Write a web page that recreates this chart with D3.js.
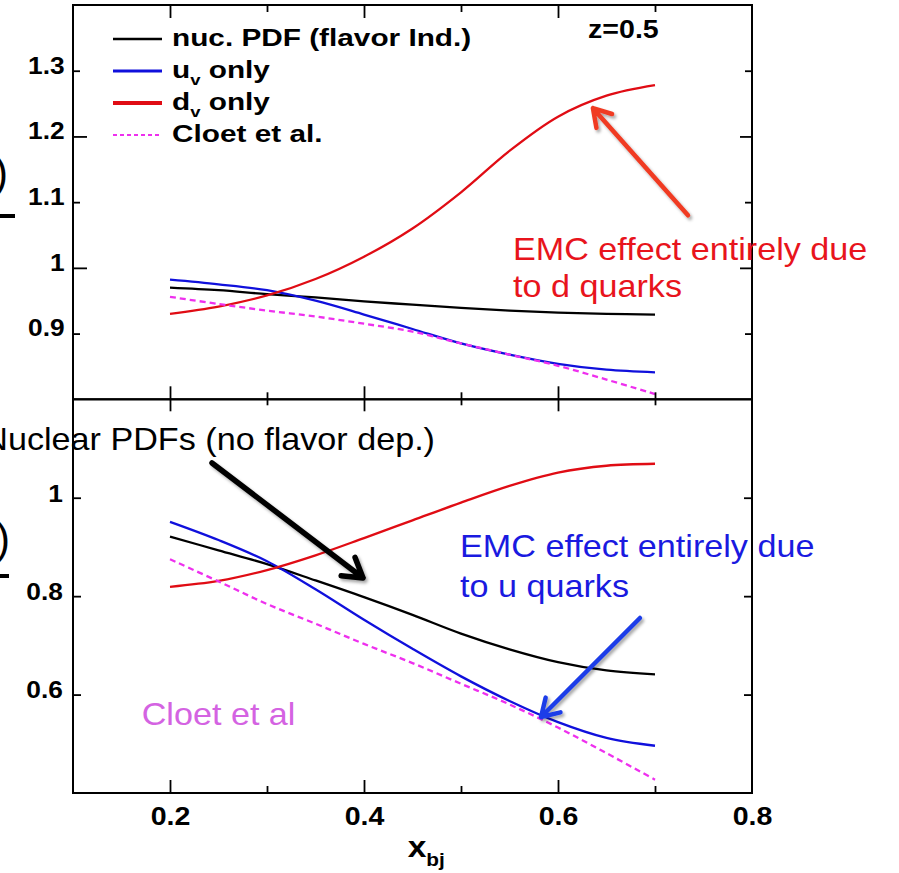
<!DOCTYPE html>
<html>
<head>
<meta charset="utf-8">
<script src="https://cdn.jsdelivr.net/npm/d3@7"></script>
<style>
  html, body { margin: 0; padding: 0; background: #fff; overflow: hidden; }
  svg { display: block; }
  text { font-family: "Liberation Sans", Arial, Helvetica, sans-serif; }
</style>
</head>
<body>
<svg id="chart" width="899" height="873"></svg>
<script>
// ---- data -------------------------------------------------------------
const xValues = [0.2, 0.25, 0.3, 0.35, 0.4, 0.45, 0.5, 0.55, 0.6, 0.65, 0.7];

// upper panel (z = 0.5)
const topNuc   = [0.970, 0.966, 0.960, 0.955, 0.949, 0.944, 0.939, 0.935, 0.932, 0.930, 0.929];
const topUv    = [0.982, 0.975, 0.966, 0.950, 0.929, 0.907, 0.885, 0.868, 0.854, 0.845, 0.841];
const topDv    = [0.930, 0.941, 0.958, 0.983, 1.017, 1.060, 1.115, 1.178, 1.230, 1.262, 1.278];
const topCloet = [0.956, 0.945, 0.935, 0.926, 0.915, 0.903, 0.885, 0.868, 0.851, 0.830, 0.808];

// lower panel
const botNuc   = [0.921, 0.893, 0.865, 0.832, 0.798, 0.762, 0.724, 0.692, 0.666, 0.649, 0.641];
const botUv    = [0.951, 0.914, 0.871, 0.814, 0.752, 0.693, 0.637, 0.587, 0.544, 0.512, 0.496];
const botDv    = [0.819, 0.831, 0.853, 0.883, 0.918, 0.954, 0.990, 1.024, 1.051, 1.065, 1.069];
const botCloet = [0.875, 0.830, 0.784, 0.744, 0.703, 0.664, 0.622, 0.580, 0.533, 0.481, 0.427];

// axes
const xDomain = [0.1, 0.8];
const topDomain = [0.8, 1.4];
const botDomain = [0.4, 1.2];
const xMajorTicks = [0.2, 0.4, 0.6];
const xMinorTicks = [0.3, 0.5, 0.7];
const xTickLabels = [0.2, 0.4, 0.6, 0.8];
const topMajorTicks = [1.0, 1.2];
const topMinorTicks = [0.9, 1.1, 1.3];
const topTickLabels = [0.9, 1.0, 1.1, 1.2, 1.3];
const botTicks = [0.6, 0.8, 1.0];

// legend
const legendNames = ["nuc. PDF (flavor Ind.)", "u|v| only", "d|v| only", "Cloet et al."];
const seriesColors = ["#000000", "#1010dc", "#e00c14", "#ee30ee"];

// ---- layout -----------------------------------------------------------
const L = 73, R = 752, T = 5, M = 399.3, B = 793;
const SX = 1.12;   // horizontal stretch of the lettering
const svg = d3.select("#chart");

const x = d3.scaleLinear().domain(xDomain).range([L, R]);
const yTop = d3.scaleLinear().domain(topDomain).range([M, T]);
const yBot = d3.scaleLinear().domain(botDomain).range([B, M]);

const defs = svg.append("defs");
const shadow = defs.append("filter").attr("id", "shadow")
  .attr("x", "-20%").attr("y", "-20%").attr("width", "140%").attr("height", "140%");
shadow.append("feDropShadow").attr("dx", 2).attr("dy", 2.5)
  .attr("stdDeviation", 1.6).attr("flood-color", "#000").attr("flood-opacity", 0.35);

// ---- curves -----------------------------------------------------------
function drawSeries(yScale, series) {
  const g = svg.append("g");
  series.forEach((vals, i) => {
    const line = d3.line()
      .x((d, j) => x(xValues[j]))
      .y(d => yScale(d))
      .curve(d3.curveCatmullRom.alpha(0.5));
    g.append("path")
      .attr("d", line(vals))
      .attr("fill", "none")
      .attr("stroke", seriesColors[i])
      .attr("stroke-width", 2.3)
      .attr("stroke-dasharray", i === 3 ? "6,4" : null);
  });
}
drawSeries(yTop, [topNuc, topUv, topDv, topCloet]);
drawSeries(yBot, [botNuc, botUv, botDv, botCloet]);

// ---- frames and ticks -------------------------------------------------
function tickAxis(axis, tx, ty, values, size) {
  const g = svg.append("g").attr("transform", `translate(${tx},${ty})`)
    .call(axis.tickValues(values).tickSize(size).tickSizeOuter(0).tickFormat(""));
  g.select(".domain").remove();
  g.selectAll("line").attr("stroke", "#000").attr("stroke-width", 1.8);
}
// x ticks: top edge, shared middle edge (both directions), bottom edge
tickAxis(d3.axisTop(x), 0, T, xMajorTicks, -13);
tickAxis(d3.axisTop(x), 0, T, xMinorTicks, -7);
tickAxis(d3.axisTop(x), 0, M, xMajorTicks, 13);
tickAxis(d3.axisTop(x), 0, M, xMinorTicks, 7);
tickAxis(d3.axisBottom(x), 0, M, xMajorTicks, 12);
tickAxis(d3.axisBottom(x), 0, M, xMinorTicks, 6);
tickAxis(d3.axisBottom(x), 0, B, xMajorTicks, -13);
tickAxis(d3.axisBottom(x), 0, B, xMinorTicks, -7);
// y ticks
tickAxis(d3.axisLeft(yTop), L, 0, topMajorTicks, -14);
tickAxis(d3.axisLeft(yTop), L, 0, topMinorTicks, -7);
tickAxis(d3.axisRight(yTop), R, 0, topMajorTicks, -12);
tickAxis(d3.axisRight(yTop), R, 0, topMinorTicks, -7);
tickAxis(d3.axisLeft(yBot), L, 0, botTicks, -8);
tickAxis(d3.axisRight(yBot), R, 0, botTicks, -8);

svg.append("rect").attr("x", L).attr("y", T).attr("width", R - L).attr("height", M - T)
  .attr("fill", "none").attr("stroke", "#000").attr("stroke-width", 2);
svg.append("rect").attr("x", L).attr("y", M).attr("width", R - L).attr("height", B - M)
  .attr("fill", "none").attr("stroke", "#000").attr("stroke-width", 2);

// ---- tick labels ------------------------------------------------------
const fmtY = d => (d === 1 ? "1" : d3.format(".1f")(d));
function labelAxis(axis, tx, ty, values, fmt, pad, size, dy) {
  const g = svg.append("g").attr("transform", `translate(${tx},${ty})`)
    .call(axis.tickValues(values).tickSize(0).tickPadding(pad).tickFormat(fmt));
  g.select(".domain").remove();
  g.selectAll("line").remove();
  g.selectAll("text")
    .attr("fill", "#000")
    .attr("font-family", "'Liberation Sans', Arial, Helvetica, sans-serif")
    .attr("font-weight", "bold")
    .attr("font-size", size)
    .attr("dy", dy)
    .attr("transform", `scale(${SX},1)`);
}
labelAxis(d3.axisLeft(yTop), L, 0, topTickLabels, fmtY, 7.5, 23.5, "0.1em");
labelAxis(d3.axisLeft(yBot), L, 0, botTicks, fmtY, 9, 23.5, "0.14em");
labelAxis(d3.axisBottom(x), 0, B, xTickLabels, d3.format(".1f"), 14, 25.5, "0.71em");

// ---- text helper ------------------------------------------------------
// parts: "a|sub|b" -> 'a', subscript 'sub', 'b'
function addText(px, py, str, opt) {
  const t = svg.append("text")
    .attr("transform", `translate(${px},${py}) scale(${opt.sx || SX},1)`)
    .attr("font-size", opt.size)
    .attr("font-weight", opt.bold ? "bold" : "normal")
    .attr("fill", opt.color || "#000")
    .attr("text-anchor", opt.anchor || "start");
  const parts = str.split("|");
  parts.forEach((p, i) => {
    if (!p) return;
    const sub = i % 2 === 1;
    const ts = t.append("tspan").text(p);
    if (sub) ts.attr("font-size", opt.size * (opt.subScale || 0.65)).attr("dy", opt.subDy || opt.size * 0.3);
    else if (i > 0) ts.attr("dy", -(opt.subDy || opt.size * 0.3));
  });
  return t;
}

// ---- legend -----------------------------------------------------------
const legendX0 = 113, legendX1 = 162, legendTextX = 172;
const legendRowY = [39, 71, 103, 135];
const legendWidths = [2.5, 3, 4, 2];
legendNames.forEach((name, i) => {
  svg.append("line")
    .attr("x1", legendX0).attr("x2", legendX1)
    .attr("y1", legendRowY[i]).attr("y2", legendRowY[i])
    .attr("stroke", seriesColors[i]).attr("stroke-width", legendWidths[i])
    .attr("stroke-dasharray", i === 3 ? "4,3" : null);
  addText(legendTextX, legendRowY[i] + 6.5, name,
    { size: 24.5, bold: true, sx: 1.215, subScale: 0.62, subDy: 7 });
});

addText(x(0.631), yTop(1.350), "z=0.5", { size: 25.5, bold: true });

// ---- y-axis title fragments at the left edge ----------------------------
addText(8, 187, ")", { size: 42, sx: 1 , anchor: "end"});
addText(10, 553, ")", { size: 42, sx: 1, anchor: "end" });
svg.append("line").attr("x1", 0).attr("x2", 15).attr("y1", 216).attr("y2", 216)
  .attr("stroke", "#000").attr("stroke-width", 4);
svg.append("line").attr("x1", 0).attr("x2", 9).attr("y1", 576).attr("y2", 576)
  .attr("stroke", "#000").attr("stroke-width", 4);

// ---- x-axis title -----------------------------------------------------
addText(x(0.4450), 857, "x|bj|", { size: 30, bold: true, subScale: 0.62, subDy: 9 });

// ---- annotations ------------------------------------------------------
function arrow(p0, p1, color, width, head) {
  const ang = Math.atan2(p1[1] - p0[1], p1[0] - p0[0]);
  const spread = 0.55;
  const h1 = [p1[0] + head * Math.cos(ang + Math.PI - spread), p1[1] + head * Math.sin(ang + Math.PI - spread)];
  const h2 = [p1[0] + head * Math.cos(ang + Math.PI + spread), p1[1] + head * Math.sin(ang + Math.PI + spread)];
  svg.append("path")
    .attr("d", `M${p0}L${p1}M${h1}L${p1}L${h2}`)
    .attr("fill", "none").attr("stroke", color).attr("stroke-width", width)
    .attr("stroke-linecap", "round").attr("stroke-linejoin", "round")
    .attr("filter", "url(#shadow)");
}

// d-quark note (upper panel)
arrow([x(0.734), yTop(1.080)], [x(0.636), yTop(1.243)], "#f03a22", 4.5, 20);
addText(x(0.5536), yTop(1.012), "EMC effect entirely due", { size: 30.5, color: "#e8141c" });
addText(x(0.5536), yTop(0.956), "to d quarks", { size: 30.5, color: "#e8141c" });

// flavour-independent note (lower panel)
addText(x(0.4732), yBot(1.097), "Nuclear PDFs (no flavor dep.)", { size: 30.5, anchor: "end" });
arrow([x(0.2433), yBot(1.0706)], [x(0.399), yBot(0.837)], "#000", 5.5, 22);

// u-quark note (lower panel)
addText(x(0.499), yBot(0.880), "EMC effect entirely due", { size: 30.5, color: "#1a1ae0" });
addText(x(0.499), yBot(0.799), "to u quarks", { size: 30.5, color: "#1a1ae0" });
arrow([x(0.6845), yBot(0.7556)], [x(0.5825), yBot(0.5544)], "#1f3ee8", 4.5, 20);

addText(x(0.1708), yBot(0.538), "Cloet et al", { size: 30.5, color: "#d463e2" });
</script>
</body>
</html>
